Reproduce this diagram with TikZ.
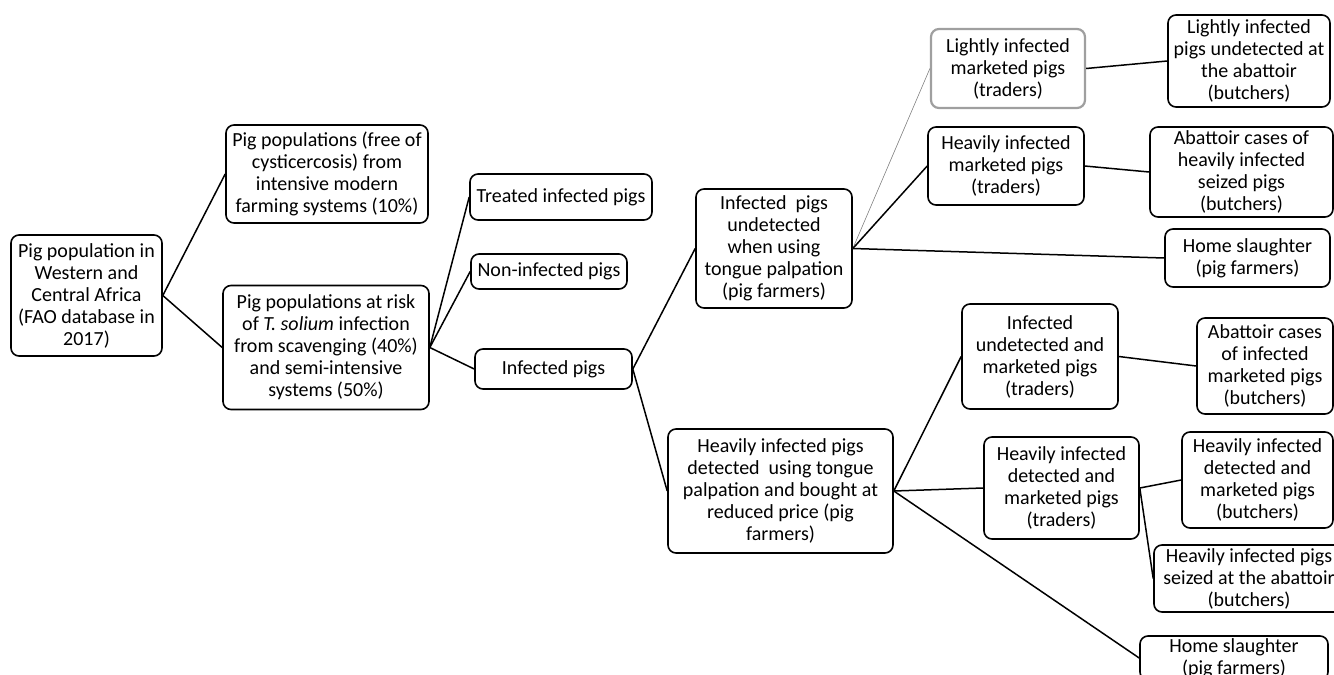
\documentclass[tikz,border=0pt]{standalone}
\usepackage{fontspec}
\setmainfont{Carlito}

\begin{document}
\begin{tikzpicture}[x=1pt,y=-1pt,
  pigbox/.style={draw,line width=1.6pt,rounded corners=8pt,align=center,inner sep=0pt,
    font=\fontsize{20}{22}\selectfont},
  link/.style={line width=1.5pt},
  thinlink/.style={line width=0.6pt,gray}]
\useasboundingbox (0,0) rectangle (1334,675);

% first level
\node[pigbox,minimum width=151,minimum height=121] (root) at (86.5,295.5)
  {Pig population in\\Western and\\Central Africa\\(FAO database in\\2017)};
\node[pigbox,minimum width=202,minimum height=98] (free) at (327,174)
  {Pig populations (free of\\cysticercosis) from\\intensive modern\\farming systems (10\%)};
\node[pigbox,minimum width=206,minimum height=124] (risk) at (326,347.5)
  {Pig populations at risk\\of \textit{T. solium} infection\\from scavenging (40\%)\\and semi-intensive\\systems (50\%)};

% second level
\node[pigbox,minimum width=182,minimum height=46] (treated) at (561,197) {Treated infected pigs};
\node[pigbox,minimum width=156,minimum height=35] (noninf) at (549,271.5) {Non-infected pigs};
\node[pigbox,minimum width=157,minimum height=40] (infpigs) at (553.5,369) {Infected pigs};

% pig farmers
\node[pigbox,minimum width=156,minimum height=119] (undet) at (774,248.5)
  {Infected\ \ pigs\\undetected\\when using\\tongue palpation\\(pig farmers)};
\node[pigbox,minimum width=225,minimum height=124] (detect) at (780.5,491)
  {Heavily infected pigs\\detected\ \ using tongue\\palpation and bought at\\reduced price (pig\\farmers)};

% traders
\node[pigbox,draw=gray!75,line width=2.2pt,minimum width=154,minimum height=79] (lighttr) at (1008,68.5)
  {Lightly infected\\marketed pigs\\(traders)};
\node[pigbox,minimum width=156,minimum height=78] (heavytr) at (1006,166)
  {Heavily infected\\marketed pigs\\(traders)};
\node[pigbox,minimum width=156,minimum height=105] (undmk) at (1040,356.5)
  {Infected\\undetected and\\marketed pigs\\(traders)};
\node[pigbox,minimum width=155,minimum height=102] (detmk) at (1061.5,488)
  {Heavily infected\\detected and\\marketed pigs\\(traders)};

% butchers and home slaughter
\node[pigbox,minimum width=162,minimum height=92] (lightbu) at (1249,61)
  {Lightly infected\\pigs undetected at\\the abattoir\\(butchers)};
\node[pigbox,minimum width=183,minimum height=90] (abheavy) at (1241.5,172)
  {Abattoir cases of\\heavily infected\\seized pigs\\(butchers)};
\node[pigbox,minimum width=165,minimum height=58] (home1) at (1247.5,258)
  {Home slaughter\\(pig farmers)};
\node[pigbox,minimum width=136,minimum height=96] (abinf) at (1265,366)
  {Abattoir cases\\of infected\\marketed pigs\\(butchers)};
\node[pigbox,minimum width=151,minimum height=96] (detbu) at (1257.5,480)
  {Heavily infected\\detected and\\marketed pigs\\(butchers)};
\node[pigbox,minimum width=190,minimum height=67] (seized) at (1249,578.5)
  {Heavily infected pigs\\seized at the abattoir\\(butchers)};
\node[pigbox,minimum width=188,minimum height=44] (home2) at (1234,658)
  {Home slaughter\\(pig farmers)};

% connectors
\draw[link] (root.east) -- (free.west);
\draw[link] (root.east) -- (risk.west);
\foreach \n in {treated,noninf,infpigs}
  \draw[link] (risk.east) -- (\n.west);
\draw[link] (infpigs.east) -- (undet.west);
\draw[link] (infpigs.east) -- (detect.west);
\draw[thinlink] (undet.east) -- (lighttr.west);
\draw[link] (undet.east) -- (heavytr.west);
\draw[link] (undet.east) -- (home1.west);
\draw[link] (lighttr.east) -- (lightbu.west);
\draw[link] (heavytr.east) -- (abheavy.west);
\foreach \n in {undmk,detmk,home2}
  \draw[link] (detect.east) -- (\n.west);
\draw[link] (undmk.east) -- (abinf.west);
\draw[link] (detmk.east) -- (detbu.west);
\draw[link] (detmk.east) -- (seized.west);
\end{tikzpicture}
\end{document}
